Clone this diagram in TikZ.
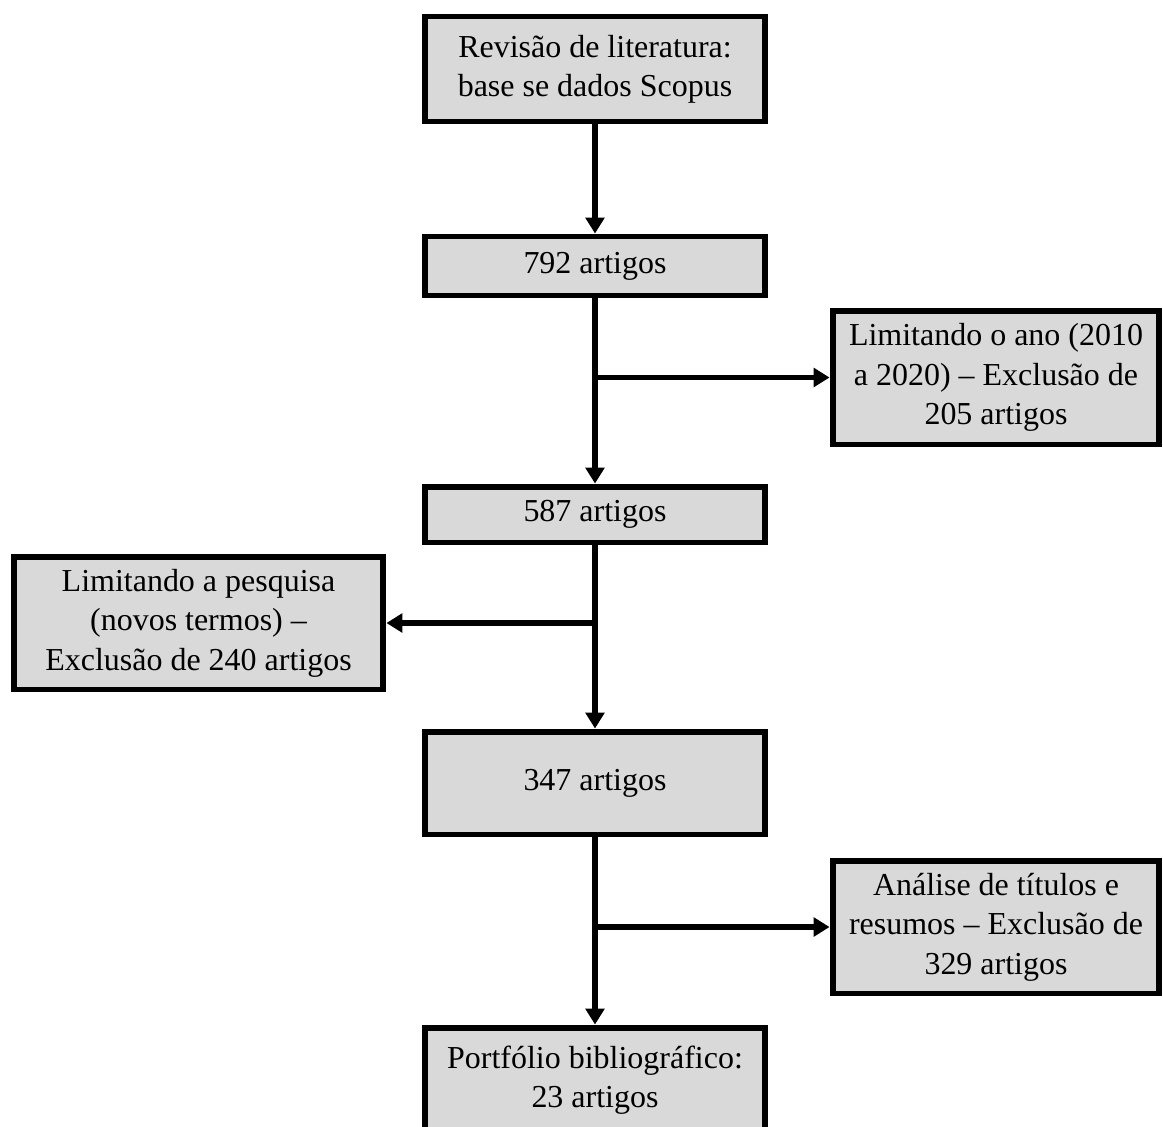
\documentclass[tikz,border=0pt]{standalone}
\usepackage{fontspec}
\setmainfont{Liberation Serif}
\usetikzlibrary{arrows.meta}
\definecolor{boxgray}{RGB}{217,217,217}

\begin{document}
\begin{tikzpicture}[x=0.02cm,y=-0.02cm,
    flow/.style={-{Triangle[length=9pt,width=10.5pt]},line width=3pt},
    main node/.style={fill=boxgray,draw,line width=3.4pt,align=center,
      inner sep=2pt,font=\fontsize{18.2}{22.4}\selectfont},
    col node/.style={main node,minimum width=6.82cm},
    side node/.style={main node,minimum width=6.54cm,minimum height=2.68cm}]
    \clip (0,0) rectangle (1163,1126);

    % central column
    \node[col node,minimum height=2.1cm] (scopus) at (595,69) {Revisão de literatura:\\base se dados Scopus};
    \node[col node,minimum height=1.18cm] (art792) at (595,266) {792 artigos};
    \node[col node,minimum height=1.12cm] (art587) at (595,514.5) {587 artigos};
    \node[col node,minimum height=2.06cm] (art347) at (595,783) {347 artigos};
    \node[col node,minimum height=2.1cm] (portfolio) at (595,1080) {Portfólio bibliográfico:\\23 artigos};

    % exclusions
    \node[side node] (ano) at (996,377.5) {Limitando o ano (2010\\a 2020) -- Exclusão de\\205 artigos};
    \node[main node,minimum width=7.4cm,minimum height=2.66cm] (termos) at (198.5,623) {Limitando a pesquisa\\(novos termos) --\\Exclusão de 240 artigos};
    \node[side node,minimum height=2.66cm] (resumos) at (996,927) {Análise de títulos e\\resumos -- Exclusão de\\329 artigos};

    \draw[flow] (scopus) -- (art792);
    \draw[flow] (art792) -- (art587);
    \draw[flow] (art587) -- (art347);
    \draw[flow] (art347) -- (portfolio);
    \draw[flow] (art792.south |- ano.west) -- (ano.west);
    \draw[flow] (art587.south |- termos.east) -- (termos.east);
    \draw[flow] (art347.south |- resumos.west) -- (resumos.west);
\end{tikzpicture}
\end{document}
